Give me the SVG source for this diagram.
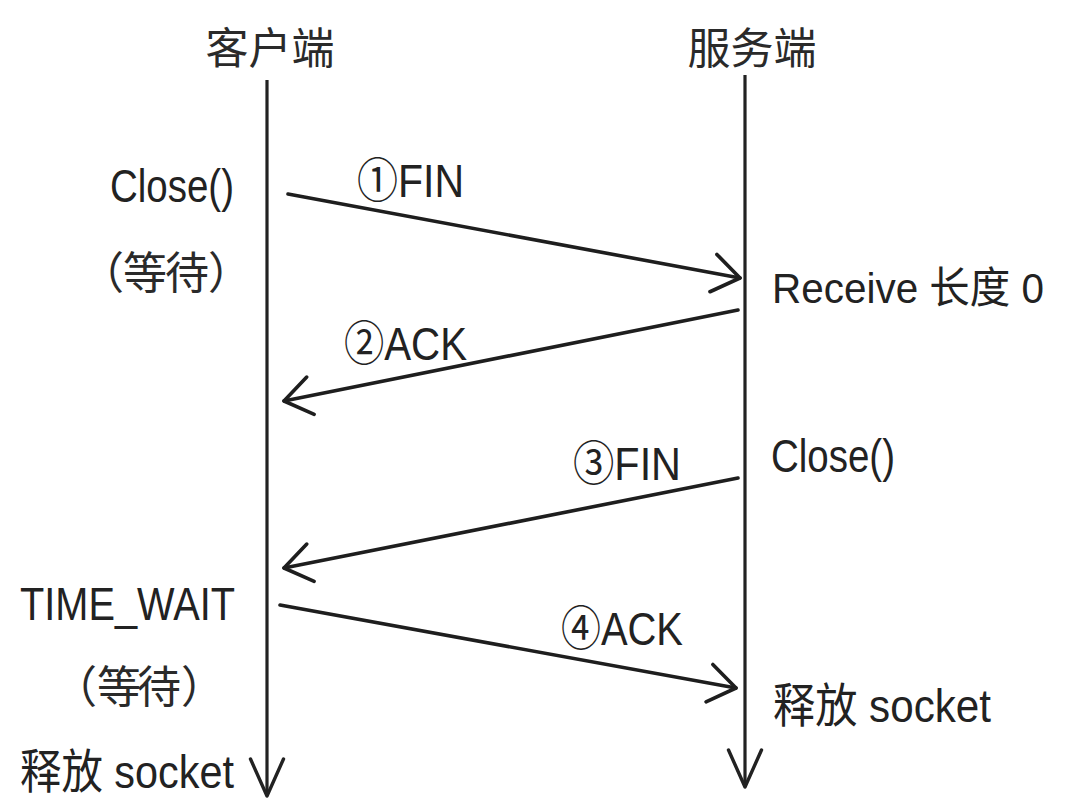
<svg xmlns="http://www.w3.org/2000/svg" width="1068" height="809" viewBox="0 0 1068 809">
<style>
.cjk{font-family:"Noto Sans CJK SC","Noto Sans CJK JP",sans-serif;fill:#2a2a2a;}
.lab{font-family:"Liberation Sans","Noto Sans CJK SC",sans-serif;fill:#222;font-size:47px;}
.lab.sm{font-size:43px;}
.life{stroke:#222;stroke-width:3.2;fill:none;}
.msg{stroke:#1e1e1e;stroke-width:3.6;fill:none;stroke-linecap:round;}
</style>
<defs>
<marker id="ah" markerUnits="userSpaceOnUse" viewBox="-32 -24 36 48" refX="0" refY="0" markerWidth="36" markerHeight="48" orient="auto" overflow="visible">
<path d="M-27,-19 L0,0 L-27,19" fill="none" stroke="#1e1e1e" stroke-width="3.6" stroke-linecap="round" stroke-linejoin="round"/>
</marker>
<marker id="lh" markerUnits="userSpaceOnUse" viewBox="-42 -20 46 40" refX="0" refY="0" markerWidth="46" markerHeight="40" orient="auto" overflow="visible">
<path d="M-37,-16.5 L0,0 L-37,16.5" fill="none" stroke="#222" stroke-width="3.4" stroke-linecap="round" stroke-linejoin="round"/>
</marker>
</defs>
<rect width="1068" height="809" fill="#fff"/>
<g id="client">
<text class="cjk" x="270" y="64" font-size="43" text-anchor="middle">客户端</text>
<line class="life" x1="267" y1="80" x2="267" y2="796" marker-end="url(#lh)"/>
</g>
<g id="server">
<text class="cjk" x="752" y="64" font-size="43" text-anchor="middle">服务端</text>
<line class="life" x1="745" y1="75" x2="745" y2="787" marker-end="url(#lh)"/>
</g>
<g id="client-close">
<text class="lab" x="110" y="202" textLength="124" lengthAdjust="spacingAndGlyphs">Close()</text>
<text class="cjk" font-size="44" y="289" x="80 123 165 208">（等待）</text>
</g>
<g id="server-receive">
<text class="lab sm" x="772" y="303" textLength="272" lengthAdjust="spacingAndGlyphs">Receive 长度 0</text>
</g>
<g id="server-close">
<text class="lab" x="771" y="472" textLength="124" lengthAdjust="spacingAndGlyphs">Close()</text>
</g>
<g id="client-timewait">
<text class="lab" x="20" y="620" textLength="215" lengthAdjust="spacingAndGlyphs">TIME_WAIT</text>
<text class="cjk" font-size="44" y="703" x="53 97 137 181">（等待）</text>
</g>
<g id="client-release">
<text class="lab" x="20" y="788" textLength="214" lengthAdjust="spacingAndGlyphs">释放 socket</text>
</g>
<g id="server-release">
<text class="lab" x="773" y="722" textLength="218" lengthAdjust="spacingAndGlyphs">释放 socket</text>
</g>
<g id="connectors">
<line class="msg" x1="288" y1="194" x2="740" y2="278" marker-end="url(#ah)"/>
<line class="msg" x1="738" y1="310" x2="284" y2="401" marker-end="url(#ah)"/>
<line class="msg" x1="738" y1="478" x2="284" y2="568" marker-end="url(#ah)"/>
<line class="msg" x1="280" y1="605" x2="736" y2="688" marker-end="url(#ah)"/>
<text class="lab" x="357" y="197" textLength="107" lengthAdjust="spacingAndGlyphs">①FIN</text>
<text class="lab" x="344" y="360" textLength="123" lengthAdjust="spacingAndGlyphs">②ACK</text>
<text class="lab" x="573" y="480" textLength="108" lengthAdjust="spacingAndGlyphs">③FIN</text>
<text class="lab" x="561" y="645" textLength="122" lengthAdjust="spacingAndGlyphs">④ACK</text>
</g>
</svg>
